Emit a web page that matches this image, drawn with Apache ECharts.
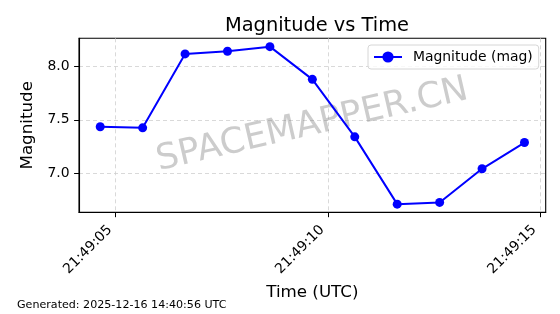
<!DOCTYPE html>
<html><head><meta charset="utf-8">
<script src="https://cdn.jsdelivr.net/npm/echarts@6/dist/echarts.min.js"></script>
<style>html,body{margin:0;padding:0;background:#fff}#c{width:560px;height:314px}</style>
</head><body><div id="c"></div>
<script>
// ---- data ----
const times = ['21:49:04.637','21:49:05.637','21:49:06.637','21:49:07.637','21:49:08.637','21:49:09.637',
               '21:49:10.637','21:49:11.637','21:49:12.637','21:49:13.637','21:49:14.637'];
const magnitudes = [7.435, 7.425, 8.115, 8.140, 8.183, 7.878, 7.341, 6.713, 6.729, 7.043, 7.288];
const xTickLabels = ['21:49:05','21:49:10','21:49:15'];
const yTickValues = [7.0, 7.5, 8.0];
const xRange = ['21:49:04.137','21:49:15.137'];
const yRange = [6.637, 8.261];
const titleText = 'Magnitude vs Time';
const seriesName = 'Magnitude (mag)';
const xName = 'Time (UTC)';
const yName = 'Magnitude';
const footerText = 'Generated: 2025-12-16 14:40:56 UTC';
const watermarkText = 'SPACEMAPPER.CN';

function toSec(s){const p=s.split(':');return (+p[0])*3600+(+p[1])*60+parseFloat(p[2]);}
function fmt(v){v=Math.round(v);const h=Math.floor(v/3600),m=Math.floor((v%3600)/60),s=v%60;
  const z=n=>(n<10?'0':'')+n;return z(h)+':'+z(m)+':'+z(s);}

const xTickVals = xTickLabels.map(toSec);
const points = times.map((t,i)=>[toSec(t), magnitudes[i]]);
const FONT = 'DejaVu Sans';
const gridLine = {show:true, lineStyle:{color:'#cfcfcf', type:[4,3], width:0.8}};

const chart = echarts.init(document.getElementById('c'), null, {renderer:'canvas'});
chart.setOption({
  animation:false,
  backgroundColor:'#fff',
  title:{text:titleText, left:312, top:11, textAlign:'center',
    textStyle:{fontFamily:FONT, fontSize:19.4, fontWeight:'normal', color:'#000'}},
  legend:{left:368, top:45, padding:[5,6,5,5], itemWidth:28, itemHeight:14,
    backgroundColor:'rgba(255,255,255,0.8)', borderColor:'#d6d6d6', borderWidth:1, borderRadius:3,
    textStyle:{fontFamily:FONT, fontSize:13.9, color:'#000', padding:[0,0,0,6]},
    data:[seriesName]},
  grid:{left:79, top:38.3, right:14.3, bottom:101.7, show:true, borderColor:'#000', borderWidth:1.1, containLabel:false},
  xAxis:{type:'value', min:toSec(xRange[0]), max:toSec(xRange[1]),
    name:xName, nameLocation:'middle', nameGap:68,
    nameTextStyle:{fontFamily:FONT, fontSize:16.7, color:'#000'},
    axisLine:{show:true, onZero:false, lineStyle:{color:'#000', width:1.1}},
    axisTick:{show:true, length:4.9, customValues:xTickVals, lineStyle:{color:'#000'}},
    axisLabel:{customValues:xTickVals, rotate:45, margin:9.7, padding:[0,8,0,0], formatter:v=>fmt(v),
      fontFamily:FONT, fontSize:13.9, color:'#000'},
    splitLine:gridLine},
  yAxis:{type:'value', min:yRange[0], max:yRange[1],
    name:yName, nameLocation:'middle', nameGap:34, nameRotate:90,
    nameTextStyle:{fontFamily:FONT, fontSize:16.7, color:'#000'},
    axisLine:{show:true, onZero:false, lineStyle:{color:'#000', width:1.1}},
    axisTick:{show:true, length:4.9, customValues:yTickValues, lineStyle:{color:'#000'}},
    axisLabel:{customValues:yTickValues, margin:9.5, formatter:v=>v.toFixed(1),
      fontFamily:FONT, fontSize:13.9, color:'#000'},
    splitLine:gridLine},
  series:[{name:seriesName, type:'line', data:points, color:'#0000ff',
    symbol:'circle', symbolSize:9, showSymbol:true,
    lineStyle:{color:'#0000ff', width:2}, itemStyle:{color:'#0000ff'}, z:3}],
  graphic:[
    {type:'text', x:312.3, y:125.3, rotation:13*Math.PI/180, z:1, silent:true,
      style:{text:watermarkText, fontFamily:FONT, fontSize:35.5, fill:'rgba(128,128,128,0.4)',
        align:'center', verticalAlign:'middle'}},
    {type:'text', left:17, top:300, z:10,
      style:{text:footerText, fontFamily:FONT, fontSize:11.1, fill:'#000'}}
  ]
});
</script></body></html>
